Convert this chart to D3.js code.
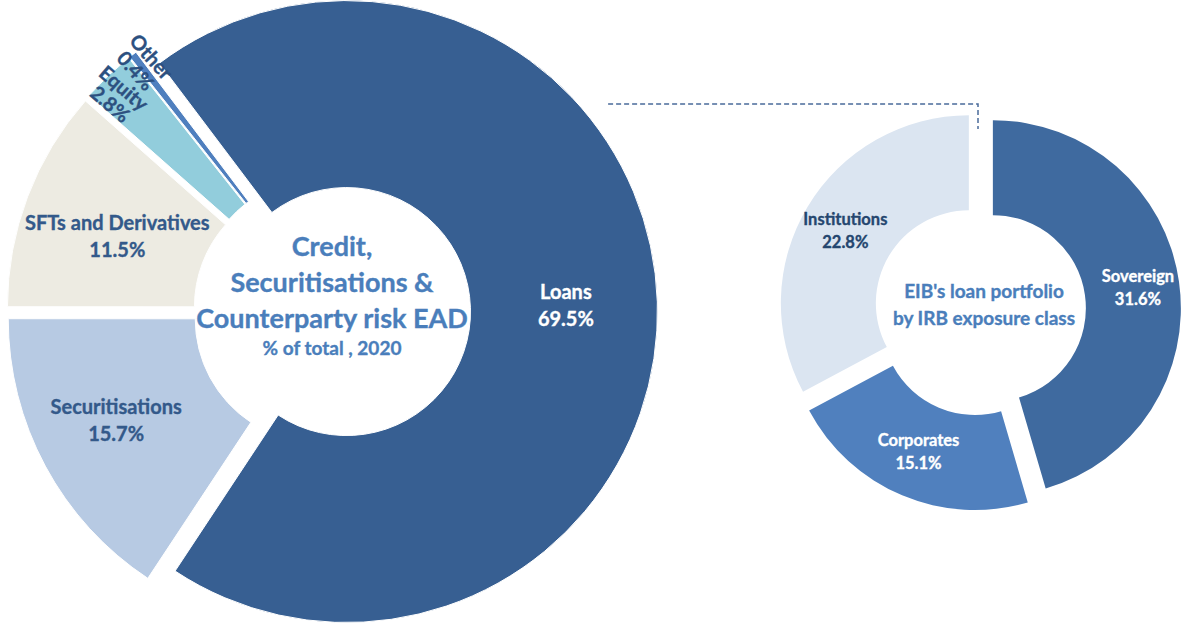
<!DOCTYPE html>
<html>
<head>
<meta charset="utf-8">
<script src="https://cdn.jsdelivr.net/npm/d3@7"></script>
<style>
  body { margin: 0; background: #fff; }
  svg { display: block; font-family: Lato, "Open Sans", sans-serif; font-weight: 700; }
  text { stroke-width: 0.35; }
</style>
</head>
<body>
<div id="chart"></div>
<script>
// EAD breakdown, % of total 2020
var eadCats = ["Loans", "Securitisations", "SFTs and Derivatives", "Equity", "Other"];
var eadVals = [69.5, 15.7, 11.5, 2.8, 0.4];
var eadColors = ["#375f92", "#b7cae3", "#edebe2", "#92cddc", "#4f7fbe"];

// loan portfolio by IRB exposure class
var irbCats = ["Sovereign", "Corporates", "Institutions"];
var irbVals = [31.6, 15.1, 22.8];
var irbColors = ["#3f6a9f", "#5080be", "#dbe5f1"];

var width = 1181, height = 625;

var svg = d3.select("#chart")
  .append("svg")
  .attr("width", width)
  .attr("height", height);

svg.append("rect").attr("width", width).attr("height", height).attr("fill", "#fff");

function fmt(v) { return v.toFixed(1) + "%"; }

// offset of an exploded slice
function shift(d, e) {
  var a = (d.startAngle + d.endAngle) / 2;
  return [e * Math.sin(a), -e * Math.cos(a)];
}

// ---------- big doughnut ----------
var big = { cx: 332, cy: 312, r0: 124, r1: 311, explode: 14.5 };

var pieBig = d3.pie()
  .sort(null)
  .value(function (d) { return d.value; })
  .startAngle(-37 * Math.PI / 180)
  .endAngle(323 * Math.PI / 180);

var eadData = eadCats.map(function (c, i) { return { name: c, value: eadVals[i] }; });
var colBig = d3.scaleOrdinal().domain(eadCats).range(eadColors);

var arcBig = d3.arc().innerRadius(big.r0).outerRadius(big.r1);
var arcBigLabel = d3.arc().innerRadius(215).outerRadius(228);

var gBig = svg.append("g").attr("transform", "translate(" + big.cx + "," + big.cy + ")");

var slicesBig = gBig.selectAll("g.slice")
  .data(pieBig(eadData))
  .enter()
  .append("g")
  .attr("class", "slice")
  .attr("transform", function (d) {
    var s = shift(d, big.explode);
    return "translate(" + s[0] + "," + s[1] + ")";
  });

slicesBig.append("path")
  .attr("d", arcBig)
  .attr("fill", function (d) { return colBig(d.data.name); })
  .attr("stroke", "#fff")
  .attr("stroke-width", 1);

// horizontal labels for the three big slices
var labelColBig = { "Loans": "#ffffff", "Securitisations": "#33598a", "SFTs and Derivatives": "#33598a" };
var nudgeBig = { "Loans": [-2, 0], "Securitisations": [-8, -4], "SFTs and Derivatives": [6, 8] };
slicesBig.filter(function (d) { return d.data.value > 5; })
  .append("text")
  .attr("transform", function (d) {
    var c = arcBigLabel.centroid(d), n = nudgeBig[d.data.name];
    return "translate(" + (c[0] + n[0]) + "," + (c[1] + n[1]) + ")";
  })
  .attr("text-anchor", "middle")
  .attr("font-size", 20)
  .attr("fill", function (d) { return labelColBig[d.data.name]; })
  .attr("stroke", function (d) { return labelColBig[d.data.name]; })
  .selectAll("tspan")
  .data(function (d) { return [d.data.name, fmt(d.data.value)]; })
  .enter()
  .append("tspan")
  .attr("x", 0)
  .attr("y", function (t, i) { return i === 0 ? -6 : 21; })
  .text(function (t) { return t; });

// rotated labels for the thin slices, reading toward the centre
slicesBig.filter(function (d) { return d.data.value < 5; })
  .append("text")
  .attr("transform", function (d) {
    var eq = d.data.name === "Equity";
    var a = (d.startAngle + d.endAngle) / 2 - (eq ? 2 : 0) * Math.PI / 180;
    var rr = eq ? 290 : 297;
    var x = rr * Math.sin(a), y = -rr * Math.cos(a);
    var rot = Math.atan2(Math.cos(a), -Math.sin(a)) * 180 / Math.PI - 4;
    return "translate(" + x + "," + y + ") rotate(" + rot + ")";
  })
  .attr("text-anchor", "middle")
  .attr("font-size", 20)
  .attr("fill", "#2c5080")
  .attr("stroke", "#2c5080")
  .selectAll("tspan")
  .data(function (d) { return [d.data.name, fmt(d.data.value)]; })
  .enter()
  .append("tspan")
  .attr("x", 0)
  .attr("y", function (t, i) { return i === 0 ? -6 : 15; })
  .text(function (t) { return t; });

// centre title
var bigTitle = ["Credit,", "Securitisations &", "Counterparty risk EAD"];
var tBig = gBig.append("text")
  .attr("text-anchor", "middle")
  .attr("fill", "#4a7ebb")
  .attr("stroke", "#4a7ebb");
tBig.selectAll("tspan")
  .data(bigTitle)
  .enter()
  .append("tspan")
  .attr("x", 0)
  .attr("y", function (t, i) { return -56 + i * 36; })
  .attr("font-size", 27)
  .text(function (t) { return t; });
tBig.append("tspan")
  .attr("x", 0)
  .attr("y", 43)
  .attr("font-size", 19)
  .text("% of total , 2020");

// ---------- small doughnut ----------
var small = { cx: 980, cy: 310, r0: 93, r1: 188, explode: 13 };

var pieSmall = d3.pie()
  .sort(null)
  .value(function (d) { return d.value; });

var irbData = irbCats.map(function (c, i) { return { name: c, value: irbVals[i] }; });
var colSmall = d3.scaleOrdinal().domain(irbCats).range(irbColors);

var arcSmall = d3.arc().innerRadius(small.r0).outerRadius(small.r1);

var gSmall = svg.append("g").attr("transform", "translate(" + small.cx + "," + small.cy + ")");

var slicesSmall = gSmall.selectAll("g.slice")
  .data(pieSmall(irbData))
  .enter()
  .append("g")
  .attr("class", "slice")
  .attr("transform", function (d) {
    var s = shift(d, small.explode);
    return "translate(" + s[0] + "," + s[1] + ")";
  });

slicesSmall.append("path")
  .attr("d", arcSmall)
  .attr("fill", function (d) { return colSmall(d.data.name); });

var labelColSmall = { "Sovereign": "#ffffff", "Corporates": "#ffffff", "Institutions": "#24466f" };
var nudgeSmall = { "Sovereign": [6, 0], "Corporates": [-2, 0], "Institutions": [-3, 0] };
slicesSmall.append("text")
  .attr("transform", function (d) {
    var c = arcSmall.centroid(d), n = nudgeSmall[d.data.name];
    return "translate(" + (c[0] + n[0]) + "," + (c[1] + n[1]) + ")";
  })
  .attr("text-anchor", "middle")
  .attr("font-size", 16.5)
  .attr("fill", function (d) { return labelColSmall[d.data.name]; })
  .attr("stroke", function (d) { return labelColSmall[d.data.name]; })
  .selectAll("tspan")
  .data(function (d) { return [d.data.name, fmt(d.data.value)]; })
  .enter()
  .append("tspan")
  .attr("x", 0)
  .attr("y", function (t, i) { return i === 0 ? -6 : 17; })
  .text(function (t) { return t; });

var smallTitle = ["EIB's loan portfolio", "by IRB exposure class"];
gSmall.append("text")
  .attr("text-anchor", "middle")
  .attr("fill", "#4a7ebb")
  .attr("stroke", "#4a7ebb")
  .attr("font-size", 19)
  .selectAll("tspan")
  .data(smallTitle)
  .enter()
  .append("tspan")
  .attr("x", 4)
  .attr("y", function (t, i) { return -12 + i * 27; })
  .text(function (t) { return t; });

// ---------- dashed connector from Loans to the right doughnut ----------
var lineY = 104;
var loansD = pieBig(eadData)[0];
var ls = shift(loansD, big.explode);
var dy = lineY - (big.cy + ls[1]);
var xEdge = big.cx + ls[0] + Math.sqrt(big.r1 * big.r1 - dy * dy) + 30;
var topSmall = small.cy - small.r1 - 3;

svg.append("path")
  .attr("d", d3.line()([[xEdge, lineY], [small.cx - 2, lineY], [small.cx - 2, topSmall + 10]]))
  .attr("fill", "none")
  .attr("stroke", "#4a6b9b")
  .attr("stroke-width", 1.5)
  .attr("stroke-dasharray", "5,3");
</script>
</body>
</html>
